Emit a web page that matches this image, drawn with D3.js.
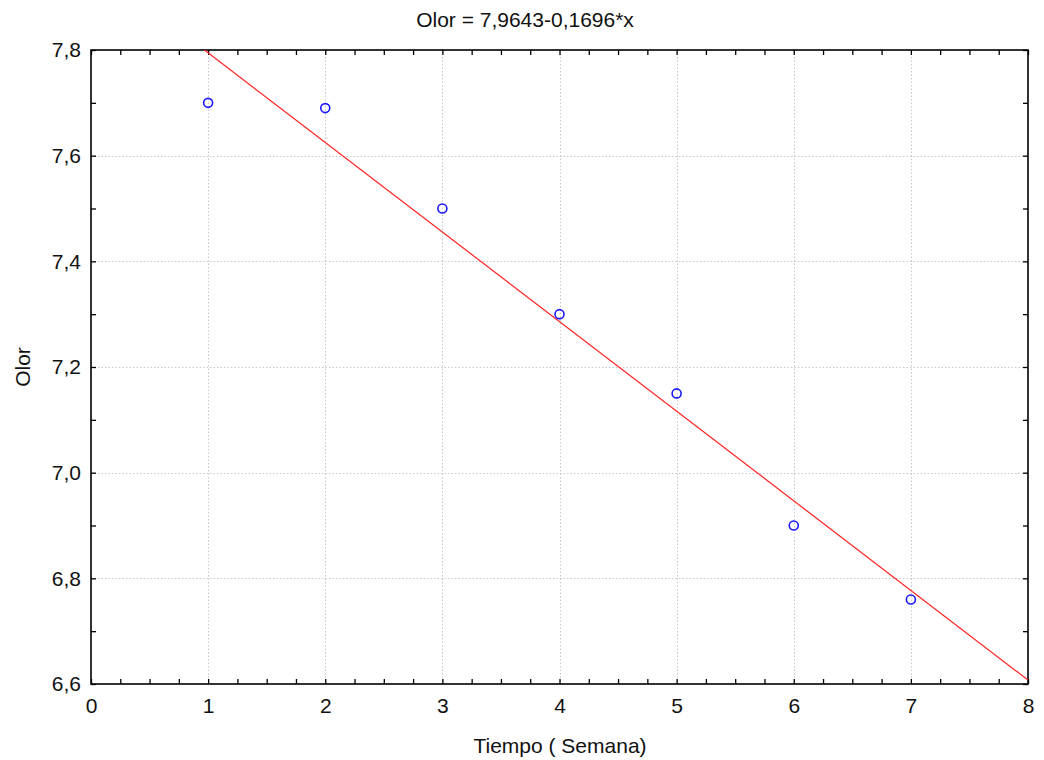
<!DOCTYPE html>
<html>
<head>
<meta charset="utf-8">
<script src="https://cdn.jsdelivr.net/npm/d3@7"></script>
<style>
  html, body { margin: 0; padding: 0; background: #fff; }
  svg { display: block; font-family: "Liberation Sans", Arial, sans-serif; }
</style>
</head>
<body>
<svg id="chart" width="1044" height="760"></svg>
<script>
// Observed scores by week
const weeks = [1, 2, 3, 4, 5, 6, 7];
const olor = [7.70, 7.69, 7.50, 7.30, 7.15, 6.90, 6.76];

// Fitted regression: Olor = a + b*x
const intercept = 7.9643;
const slope = -0.1696;

const xTicks = [0, 1, 2, 3, 4, 5, 6, 7, 8];
const yTicks = [6.6, 6.8, 7.0, 7.2, 7.4, 7.6, 7.8];

const titleText = "Olor = 7,9643-0,1696*x";
const xLabel = "Tiempo ( Semana)";
const yLabel = "Olor";

const svg = d3.select("#chart");
const m = { left: 91, right: 1028, top: 50, bottom: 684 };
const fontSize = 21;

const x = d3.scaleLinear().domain([0, 8]).range([m.left, m.right]);
const y = d3.scaleLinear().domain([6.6, 7.8]).range([m.bottom, m.top]);
const fmt = v => d3.format(".1f")(v).replace(".", ",");

svg.append("defs").append("clipPath").attr("id", "plotClip")
  .append("rect")
  .attr("x", m.left).attr("y", m.top)
  .attr("width", m.right - m.left).attr("height", m.bottom - m.top);

// Dotted grid at major ticks
const grid = svg.append("g").attr("stroke", "#c8c8c8").attr("stroke-dasharray", "1.5,2").attr("stroke-width", 1);
grid.selectAll("line.v").data(xTicks.slice(1, -1)).join("line")
  .attr("x1", d => Math.round(x(d)) + 0.5).attr("x2", d => Math.round(x(d)) + 0.5)
  .attr("y1", m.top).attr("y2", m.bottom);
grid.selectAll("line.h").data(yTicks.slice(1, -1)).join("line")
  .attr("y1", d => Math.round(y(d)) + 0.5).attr("y2", d => Math.round(y(d)) + 0.5)
  .attr("x1", m.left).attr("x2", m.right);

// Axes (ticks pointing inward on all four sides)
const xMinor = d3.range(0, 8.001, 0.25);
const yMinor = d3.range(6.6, 7.8001, 0.1);

function axisG(axis, tr) {
  const g = svg.append("g").attr("transform", tr).call(axis);
  g.select(".domain").remove();
  g.selectAll(".tick line").attr("stroke", "#000").attr("stroke-width", 1.3);
  g.selectAll(".tick text").attr("font-size", fontSize).attr("fill", "#111")
    .attr("font-family", "Liberation Sans, Arial, sans-serif");
  return g;
}
axisG(d3.axisBottom(x).tickValues(xMinor).tickSize(-5).tickFormat(""), `translate(0,${m.bottom})`);
axisG(d3.axisTop(x).tickValues(xMinor).tickSize(-5).tickFormat(""), `translate(0,${m.top})`);
axisG(d3.axisLeft(y).tickValues(yMinor).tickSize(-5).tickFormat(""), `translate(${m.left},0)`);
axisG(d3.axisRight(y).tickValues(yMinor).tickSize(-5).tickFormat(""), `translate(${m.right},0)`);

// Tick labels
axisG(d3.axisBottom(x).tickValues(xTicks).tickSize(0).tickPadding(14).tickFormat(d3.format("d")), `translate(0,${m.bottom})`);
axisG(d3.axisLeft(y).tickValues(yTicks).tickSize(0).tickPadding(10).tickFormat(fmt), `translate(${m.left},0)`);

// Frame
svg.append("rect")
  .attr("x", m.left).attr("y", m.top)
  .attr("width", m.right - m.left).attr("height", m.bottom - m.top)
  .attr("fill", "none").attr("stroke", "#000").attr("stroke-width", 1.6);

// Regression line
const plot = svg.append("g").attr("clip-path", "url(#plotClip)");
plot.append("line")
  .attr("x1", x(0)).attr("y1", y(intercept))
  .attr("x2", x(8)).attr("y2", y(intercept + slope * 8))
  .attr("stroke", "#ff2020").attr("stroke-width", 1.2);

// Points
svg.append("g").selectAll("circle").data(weeks).join("circle")
  .attr("cx", (d) => x(d)).attr("cy", (d, i) => y(olor[i]))
  .attr("r", 4.5).attr("fill", "none").attr("stroke", "#1a1aff").attr("stroke-width", 1.6);

// Titles
svg.append("text").attr("x", 525).attr("y", 27)
  .attr("text-anchor", "middle").attr("font-size", fontSize).attr("fill", "#111").text(titleText);
svg.append("text").attr("x", 560).attr("y", 753)
  .attr("text-anchor", "middle").attr("font-size", fontSize).attr("fill", "#111").text(xLabel);
svg.append("text").attr("transform", `translate(30,${(m.top + m.bottom) / 2}) rotate(-90)`)
  .attr("text-anchor", "middle").attr("font-size", fontSize).attr("fill", "#111").text(yLabel);
</script>
</body>
</html>
